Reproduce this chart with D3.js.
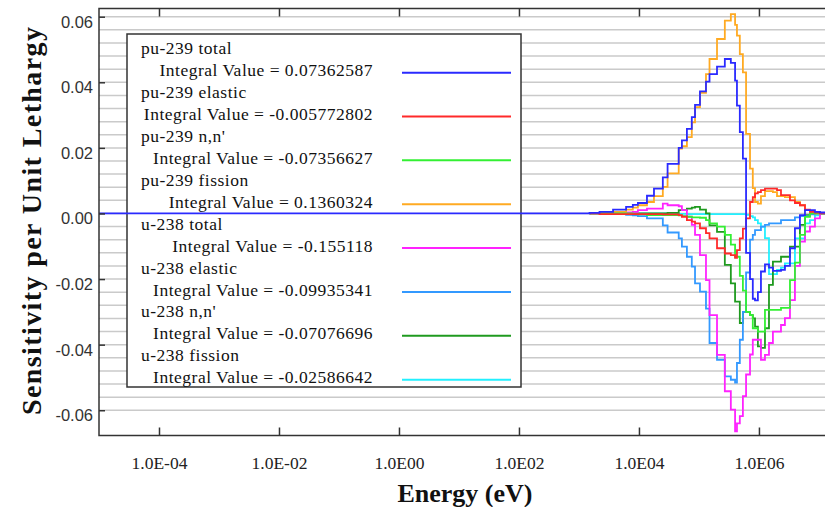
<!DOCTYPE html>
<html>
<head>
<meta charset="utf-8">
<script src="https://cdn.jsdelivr.net/npm/d3@7"></script>
<style>
body { margin: 0; background: #fff; }
svg { display: block; }
</style>
</head>
<body>
<script>
// energy group boundaries (eV)
const energyEdges = [1.5e3, 2.2e3, 3.7e3, 6.1e3, 7.9e3, 9.6e3, 1.36e4, 1.78e4, 2.5e4, 3.0e4,
    4.6e4, 5.2e4, 6.3e4, 7.6e4, 8.6e4, 1.04e5, 1.31e5, 1.5e5, 2.0e5, 2.7e5,
    3.4e5, 4.0e5, 4.3e5, 4.8e5, 5.4e5, 6.1e5, 7.1e5, 7.9e5, 8.6e5, 9.6e5,
    1.08e6, 1.26e6, 1.47e6, 1.71e6, 2.0e6, 2.33e6, 2.71e6, 3.29e6, 3.98e6, 4.82e6,
    5.85e6, 7.08e6, 8.58e6, 1.04e7, 2.0e7];

// sensitivity per unit lethargy, one value per group
const pu239Total = [0.0002, 0.0005, 0.0012, 0.002, 0.0026, 0.0032, 0.0054, 0.0076, 0.011, 0.0151,
    0.020, 0.0223, 0.0258, 0.0294, 0.0331, 0.0372, 0.0402, 0.0425, 0.0448, 0.0471,
    0.0459, 0.0405, 0.0329, 0.0248, 0.0167, -0.012, -0.020, -0.026, -0.0265, -0.024,
    -0.0177, -0.0155, -0.0165, -0.0175, -0.0175, -0.0172, -0.016, -0.0106, -0.0045, -0.0005,
    0.001, 0.001, 0.0005, 0.0003];
const pu239Elastic = [0, -0.0002, -0.0002, -0.0002, -0.0002, -0.0002, -0.0002, -0.0002, -0.0003, -0.0003,
    -0.0005, -0.001, -0.002, -0.0025, -0.003, -0.0045, -0.006, -0.0076, -0.0106, -0.0122,
    -0.0127, -0.0135, -0.0112, -0.0076, -0.0046, -0.0015, 0.0035, 0.005, 0.0061, 0.0065,
    0.0071, 0.0076, 0.0076, 0.0076, 0.0071, 0.0056, 0.0056, 0.004, 0.0032, 0.0025,
    0.0012, 0.0005, 0.0003, 0];
const pu239Inel = [0, 0, 0, 0, -0.0002, -0.0003, -0.0005, -0.0005, -0.0005, -0.0005,
    -0.0006, -0.0008, -0.001, -0.0012, -0.0012, -0.0013, -0.002, -0.003, -0.004, -0.0065,
    -0.0095, -0.0132, -0.0132, -0.019, -0.0235, -0.030, -0.031, -0.035, -0.035, -0.036,
    -0.036, -0.0294, -0.0294, -0.0294, -0.0294, -0.0288, -0.0288, -0.0203, -0.015, -0.0065,
    -0.001, 0, 0, 0];
const pu239Fission = [0, 0, 0.0005, 0.0012, 0.0018, 0.0025, 0.0035, 0.0053, 0.0081, 0.0122,
    0.0198, 0.0205, 0.0233, 0.0278, 0.0324, 0.0368, 0.0425, 0.0471, 0.0532, 0.0588,
    0.0608, 0.0575, 0.0542, 0.0486, 0.043, 0.0243, 0.0137, 0.0077, 0.0035, 0.003,
    0.0053, 0.0068, 0.0068, 0.0065, 0.0053, 0.0053, 0.005, 0.005, 0.0035, 0.0025,
    0.001, 0.0005, 0, 0];
const u238Total = [0, 0, 0, 0.0003, 0.0005, 0.001, 0.0015, 0.0015, 0.003, 0.0025,
    0.0022, 0.001, -0.001, -0.0035, -0.0065, -0.0127, -0.0203, -0.031, -0.0431, -0.0542,
    -0.0598, -0.0664, -0.064, -0.0618, -0.0557, -0.0491, -0.043, -0.0385, -0.0385, -0.0385,
    -0.0446, -0.0431, -0.0395, -0.036, -0.036, -0.034, -0.0319, -0.0264, -0.016, -0.0086,
    -0.0055, -0.004, -0.0015, 0];
const u238Elastic = [0, -0.0001, -0.0002, -0.0004, -0.0006, -0.0008, -0.0015, -0.0015, -0.0036, -0.0058,
    -0.0076, -0.0101, -0.0132, -0.0162, -0.0213, -0.0238, -0.029, -0.0395, -0.0446, -0.0497,
    -0.0507, -0.0516, -0.0456, -0.0385, -0.030, -0.018, -0.008, -0.0065, -0.0051, -0.0051,
    -0.004, -0.0035, -0.003, -0.003, -0.003, -0.002, -0.002, -0.002, -0.0012, -0.0008,
    -0.0008, -0.0003, 0, 0];
const u238Inel = [0, 0, 0, 0, 0, 0, 0, 0, 0, 0.0002,
    0.001, 0.001, 0.0015, 0.0018, 0.002, 0.0012, 0, -0.0036, -0.0056, -0.0157,
    -0.0213, -0.0269, -0.0269, -0.0334, -0.030, -0.030, -0.031, -0.032, -0.0345, -0.0405,
    -0.041, -0.035, -0.0218, -0.0147, -0.0147, -0.0132, -0.0132, -0.0101, -0.0101, -0.0035,
    -0.0005, 0, 0, 0];
const u238Fission = [0, 0, 0, 0, 0, 0, 0, 0, 0, 0,
    -0.0001, -0.0001, -0.0002, -0.0002, -0.0002, -0.0002, -0.0002, -0.0002, -0.0002, -0.0002,
    -0.0002, -0.0002, -0.0002, -0.0002, -0.0002, -0.0004, -0.0008, -0.0012, -0.002, -0.003,
    -0.004, -0.0075, -0.0185, -0.0185, -0.0172, -0.0165, -0.0152, -0.0152, -0.0076, -0.0076,
    -0.003, -0.002, -0.0006, -0.0002];

const seriesNames = ["pu-239 total", "pu-239 elastic", "pu-239 n,n'", "pu-239 fission",
    "u-238 total", "u-238 elastic", "u-238 n,n'", "u-238 fission"];
const integralValues = ["0.07362587", "-0.005772802", "-0.07356627", "0.1360324",
    "-0.155118", "-0.09935341", "-0.07076696", "-0.02586642"];
const seriesColors = ["#2a2aff", "#ff2a2a", "#33f033", "#ffaa22",
    "#ff22ff", "#3399ff", "#1f9a1f", "#22f0ff"];
const seriesValues = [pu239Total, pu239Elastic, pu239Inel, pu239Fission,
    u238Total, u238Elastic, u238Inel, u238Fission];

const xTicks = [1e-4, 1e-2, 1, 1e2, 1e4, 1e6];
const xTickLabels = ["1.0E-04", "1.0E-02", "1.0E00", "1.0E02", "1.0E04", "1.0E06"];
const yTicks = [0.06, 0.04, 0.02, 0, -0.02, -0.04, -0.06];
const yTickLabels = ["0.06", "0.04", "0.02", "0.00", "-0.02", "-0.04", "-0.06"];

var svg = d3.select('body').append('svg')
    .attr('width', 825)
    .attr('height', 507);

let plotLeft = 99, plotRight = 837, plotTop = 8.5, plotBottom = 435.5;

var xScale = d3.scaleLog()
    .domain([1e-5, 2e7])
    .range([plotLeft, plotRight]);
var yScale = d3.scaleLinear()
    .domain([-0.0677, 0.0625])
    .range([plotBottom, plotTop]);

svg.append('defs').append('clipPath')
    .attr('id', 'plotclip')
    .append('rect')
    .attr('x', plotLeft).attr('y', plotTop)
    .attr('width', plotRight - plotLeft).attr('height', plotBottom - plotTop);

// horizontal grid, every 0.004
let gridValues = d3.range(-15, 16).map(i => i * 0.004);
svg.append('g')
    .attr('class', 'grid')
    .selectAll('line')
    .data(gridValues)
    .enter().append('line')
    .attr('x1', plotLeft).attr('x2', plotRight)
    .attr('y1', d => yScale(d)).attr('y2', d => yScale(d))
    .attr('stroke', '#cacaca')
    .attr('stroke-width', 1.5);

// legend box (series lines are drawn over it)
let legend = svg.append('g').attr('class', 'legend');
legend.append('rect')
    .attr('x', 127).attr('y', 34)
    .attr('width', 394).attr('height', 353)
    .attr('fill', '#fff')
    .attr('stroke', '#333')
    .attr('stroke-width', 1.5);

let rowH = 21.93;
for (let i = 0; i < seriesNames.length; ++i) {
    let y1 = 54.3 + 2 * i * rowH;
    legend.append('text')
        .attr('x', 141).attr('y', y1)
        .attr('font-family', 'Liberation Serif')
        .attr('font-size', '17.5px')
        .attr('letter-spacing', '0.5px')
        .attr('fill', '#111')
        .text(seriesNames[i]);
    legend.append('text')
        .attr('x', 373).attr('y', y1 + rowH)
        .attr('text-anchor', 'end')
        .attr('font-family', 'Liberation Serif')
        .attr('font-size', '17.5px')
        .attr('letter-spacing', '0.5px')
        .attr('fill', '#111')
        .text('Integral Value = ' + integralValues[i]);
    legend.append('line')
        .attr('x1', 402).attr('x2', 511)
        .attr('y1', y1 + rowH - 3.6).attr('y2', y1 + rowH - 3.6)
        .attr('stroke', seriesColors[i])
        .attr('stroke-width', 2);
}

// step curves; only pu-239 total is drawn along the zero line from the left edge
var line = d3.line()
    .x(d => xScale(d[0]))
    .y(d => yScale(d[1]))
    .curve(d3.curveStepAfter);

let curves = svg.append('g')
    .attr('class', 'curves')
    .attr('clip-path', 'url(#plotclip)');
for (let s = seriesNames.length - 1; s >= 0; --s) {
    let vals = seriesValues[s];
    let pts = s == 0 ? [[1e-5, 0]] : [];
    for (let i = 0; i < energyEdges.length; ++i) {
        pts.push([energyEdges[i], vals[Math.min(i, vals.length - 1)]]);
    }
    curves.append('path')
        .attr('d', line(pts))
        .attr('fill', 'none')
        .attr('stroke', seriesColors[s])
        .attr('stroke-width', 1.8);
}

// frame
svg.append('rect')
    .attr('x', plotLeft).attr('y', plotTop)
    .attr('width', plotRight - plotLeft + 20).attr('height', plotBottom - plotTop)
    .attr('fill', 'none')
    .attr('stroke', '#333')
    .attr('stroke-width', 1.5);

// x ticks, inward at bottom and top
svg.append('g')
    .attr('transform', 'translate(0,' + plotBottom + ')')
    .call(d3.axisTop(xScale).tickValues(xTicks).tickSize(8).tickFormat(''))
    .call(g => g.select('.domain').remove());
svg.append('g')
    .attr('transform', 'translate(0,' + plotTop + ')')
    .call(d3.axisBottom(xScale).tickValues(xTicks).tickSize(8).tickFormat(''))
    .call(g => g.select('.domain').remove());
svg.selectAll('.tick line').attr('stroke', '#333').attr('stroke-width', 1.5);

let xLab = svg.append('g')
    .attr('transform', 'translate(0,' + plotBottom + ')')
    .call(d3.axisBottom(xScale).tickValues(xTicks).tickSize(0).tickPadding(0)
        .tickFormat((d, i) => xTickLabels[i]));
xLab.select('.domain').remove();
xLab.selectAll('text')
    .attr('dy', null)
    .attr('y', 33)
    .attr('font-family', 'Liberation Serif')
    .attr('font-size', '17.5px')
    .attr('fill', '#222');

// y ticks, inward at left
let yAx = svg.append('g')
    .attr('transform', 'translate(' + plotLeft + ',0)')
    .call(d3.axisRight(yScale).tickValues(yTicks).tickSize(6).tickFormat(''));
yAx.select('.domain').remove();
yAx.selectAll('line').attr('stroke', '#333').attr('stroke-width', 1.5);

let yLab = svg.append('g')
    .attr('transform', 'translate(' + (plotLeft - 6) + ',0)')
    .call(d3.axisLeft(yScale).tickValues(yTicks).tickSize(0).tickPadding(0)
        .tickFormat((d, i) => yTickLabels[i]));
yLab.select('.domain').remove();
yLab.selectAll('text')
    .attr('dy', null)
    .attr('y', 10.5)
    .attr('font-family', 'Liberation Sans')
    .attr('font-size', '16.5px')
    .attr('fill', '#333');

// axis titles
svg.append('text')
    .attr('x', 465).attr('y', 502)
    .attr('text-anchor', 'middle')
    .attr('font-family', 'Liberation Serif')
    .attr('font-weight', 'bold')
    .attr('font-size', '26px')
    .attr('fill', '#111')
    .text('Energy (eV)');
svg.append('text')
    .attr('transform', 'translate(41,221) rotate(-90)')
    .attr('text-anchor', 'middle')
    .attr('font-family', 'Liberation Serif')
    .attr('font-weight', 'bold')
    .attr('font-size', '28px')
    .attr('textLength', 388)
    .attr('lengthAdjust', 'spacing')
    .attr('fill', '#111')
    .text('Sensitivity per Unit Lethargy');
</script>
</body>
</html>
